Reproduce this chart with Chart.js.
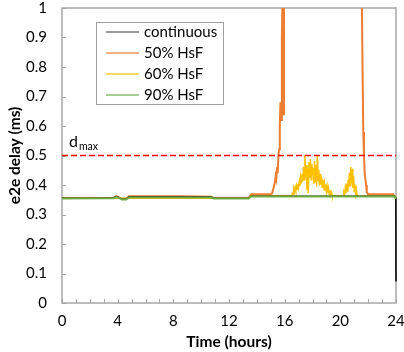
<!DOCTYPE html>
<html>
<head>
<meta charset="utf-8">
<script src="https://cdn.jsdelivr.net/npm/chart.js@4"></script>
<style>
html,body{margin:0;padding:0;background:#fff}
#wrap{width:404px;height:352px;position:relative}
</style>
</head>
<body>
<div id="wrap"><canvas id="c"></canvas></div>
<script>
// tick labels
const hourTicks = [0, 4, 8, 12, 16, 20, 24]
const delayTicks = [0, 0.1, 0.2, 0.3, 0.4, 0.5, 0.6, 0.7, 0.8, 0.9, 1]

// continuous
const contHours = [0, 3.7, 3.9, 4.1, 4.3, 4.6, 4.8, 10.7, 10.9, 13.4, 13.6, 23.9, 23.99, 24]
const contDelay = [0.355, 0.356, 0.36, 0.357, 0.352, 0.352, 0.359, 0.359, 0.355, 0.355, 0.362, 0.362, 0.355, 0.073]

// 50% HsF
const hsf50Hours = [0, 3.7, 3.9, 4.1, 4.3, 4.6, 4.8, 8.5, 10.7, 10.9, 13.4, 13.6, 15.0, 15.1, 15.2, 15.3, 15.35, 15.4, 15.45,
  15.5, 15.55, 15.6, 15.65, 15.7, 15.75, 15.8, 15.85, 15.9, 15.95, 16.0, 21.5, 21.55, 21.6, 21.65, 21.7, 21.75, 21.8, 21.85,
  21.9, 22.0, 23.8, 23.9, 24]
const hsf50Delay = [0.356, 0.357, 0.362, 0.358, 0.353, 0.353, 0.362, 0.362, 0.36, 0.356, 0.356, 0.369, 0.369, 0.372, 0.39, 0.41, 0.43, 0.42, 0.46,
  0.44, 0.5, 0.52, 0.6, 0.68, 0.62, 0.9, 1.05, 0.64, 1.3, 1.6, 1.6, 1.0, 0.78, 0.58, 0.5, 0.44, 0.42, 0.4,
  0.375, 0.369, 0.369, 0.36, 0.355]

// 60% HsF
const hsf60Hours = [0, 13.4, 13.6, 16.5,
  16.55, 16.6, 16.65, 16.7, 16.75, 16.8, 16.85, 16.9, 16.95, 17.0, 17.05, 17.1, 17.15, 17.2, 17.25, 17.3, 17.35, 17.4, 17.45,
  17.5, 17.55, 17.6, 17.65, 17.7, 17.75, 17.8, 17.85, 17.9, 17.95, 18.0, 18.05, 18.1, 18.15, 18.2, 18.25, 18.3, 18.35, 18.4,
  18.45, 18.5, 18.55, 18.6, 18.65, 18.7, 18.75, 18.8, 18.85, 18.9, 18.95, 19.0, 19.05, 19.1, 19.15, 19.2, 19.25, 19.3, 19.35,
  19.4, 19.5, 20.2, 20.25, 20.3, 20.35, 20.4, 20.45, 20.5, 20.55, 20.6, 20.65, 20.7, 20.75, 20.8, 20.85, 20.9, 20.95, 21.0,
  21.05, 21.1, 21.15, 21.2, 21.3, 24]
const hsf60Delay = [0.355, 0.355, 0.362, 0.364,
  0.372, 0.368, 0.385, 0.376, 0.392, 0.381, 0.398, 0.386, 0.404, 0.392, 0.412, 0.398, 0.425, 0.405, 0.438, 0.412, 0.462, 0.418, 0.502,
  0.428, 0.468, 0.382, 0.455, 0.372, 0.478, 0.425, 0.488, 0.418, 0.472, 0.436, 0.458, 0.404, 0.482, 0.412, 0.468, 0.395, 0.501, 0.415,
  0.452, 0.398, 0.438, 0.402, 0.428, 0.392, 0.418, 0.395, 0.408, 0.382, 0.402, 0.378, 0.395, 0.372, 0.388, 0.368, 0.382, 0.366, 0.375,
  0.364, 0.363, 0.364, 0.375, 0.368, 0.388, 0.372, 0.405, 0.38, 0.418, 0.392, 0.442, 0.398, 0.462, 0.405, 0.455, 0.39, 0.432, 0.378,
  0.402, 0.37, 0.385, 0.366, 0.363, 0.362]

// 90% HsF
const hsf90Hours = [0, 3.7, 3.9, 4.1, 4.3, 4.6, 4.8, 10.7, 10.9, 13.4, 13.6, 23.9, 24]
const hsf90Delay = [0.354, 0.355, 0.359, 0.356, 0.351, 0.351, 0.358, 0.358, 0.354, 0.354, 0.361, 0.361, 0.353]

// d_max threshold
const dmaxHours = [0, 24]
const dmaxDelay = [0.5, 0.5]

function pts(xs, ys) {
  return xs.map((x, i) => ({x: x, y: ys[i]}))
}

const FONT = 'Lato, "Open Sans", sans-serif'

const series = [
  {label: 'continuous', data: pts(contHours, contDelay), borderColor: '#000000', borderWidth: 1.5, order: 2},
  {label: '50% HsF', data: pts(hsf50Hours, hsf50Delay), borderColor: '#ED7D31', borderWidth: 2, order: 4},
  {label: '60% HsF', data: pts(hsf60Hours, hsf60Delay), borderColor: '#FFC000', borderWidth: 1.5, order: 3},
  {label: '90% HsF', data: pts(hsf90Hours, hsf90Delay), borderColor: '#70AD47', borderWidth: 2, order: 1},
  {label: 'dmax', data: pts(dmaxHours, dmaxDelay), borderColor: '#FF0000', borderWidth: 1.5, borderDash: [6, 3], order: 0}
]
series.forEach(s => {
  s.pointRadius = 0; s.tension = 0; s.fill = false
  s.clip = {left: 0, top: 0, right: 2, bottom: 0}
})

const decor = {
  id: 'decor',
  beforeDatasetsDraw(chart) {
    const ctx = chart.ctx, a = chart.chartArea
    const xs = chart.scales.x, ys = chart.scales.y
    ctx.save()
    // frame
    ctx.strokeStyle = '#A6A6A6'
    ctx.lineWidth = 1.5
    ctx.strokeRect(a.left, a.top, a.right - a.left, a.bottom - a.top)
    // inward ticks
    ctx.beginPath()
    for (let h = 0; h <= 24; h++) {
      const px = Math.round(xs.getPixelForValue(h)) + 0.5
      ctx.moveTo(px, a.bottom); ctx.lineTo(px, a.bottom - 4)
    }
    delayTicks.forEach(v => {
      const py = Math.round(ys.getPixelForValue(v)) + 0.5
      ctx.moveTo(a.left, py); ctx.lineTo(a.left + 4, py)
    })
    ctx.lineWidth = 1
    ctx.stroke()
    ctx.restore()
  },
  afterDraw(chart) {
    const ctx = chart.ctx
    const xs = chart.scales.x, ys = chart.scales.y
    ctx.save()
    // d_max label
    const lx = xs.getPixelForValue(0.5), ly = ys.getPixelForValue(0.5) - 9
    ctx.fillStyle = '#000'
    ctx.font = '16px ' + FONT
    ctx.textBaseline = 'alphabetic'
    ctx.fillText('d', lx, ly)
    const dw = ctx.measureText('d').width
    ctx.font = '10.5px ' + FONT
    ctx.fillText('max', lx + dw + 1, ly + 3)

    // legend
    const bx = 96, by = 22, bw = 127, bh = 82
    ctx.fillStyle = '#fff'
    ctx.fillRect(bx, by, bw, bh)
    ctx.strokeStyle = '#A0A0A0'
    ctx.lineWidth = 1
    ctx.strokeRect(bx + 0.5, by + 0.5, bw, bh)
    ctx.font = '15px ' + FONT
    ctx.textBaseline = 'middle'
    for (let i = 0; i < 4; i++) {
      const s = series[i]
      const yy = by + 10 + i * 21
      ctx.globalAlpha = i === 0 ? 0.8 : 0.6
      ctx.strokeStyle = s.borderColor
      ctx.lineWidth = i === 0 ? 1.2 : 2
      ctx.beginPath()
      ctx.moveTo(106, yy); ctx.lineTo(139, yy)
      ctx.stroke()
      ctx.globalAlpha = 1
      ctx.fillStyle = '#000'
      ctx.fillText(s.label, 144, yy)
    }
    ctx.restore()
  }
}

new Chart(document.getElementById('c'), {
  type: 'line',
  data: {datasets: series},
  options: {
    responsive: true,
    maintainAspectRatio: false,
    animation: false,
    layout: {padding: {top: 8, right: 8, left: 0, bottom: 0}},
    plugins: {legend: {display: false}, tooltip: {enabled: false}},
    scales: {
      x: {
        type: 'linear', min: 0, max: 24,
        afterBuildTicks: s => { s.ticks = hourTicks.map(v => ({value: v})) },
        afterFit: s => { s.height = 49; s.paddingLeft = 0; s.paddingRight = 0 },
        grid: {display: false, drawTicks: false},
        border: {display: false},
        ticks: {color: '#000', font: {family: FONT, size: 15}, padding: 9, maxRotation: 0},
        title: {display: true, text: 'Time (hours)', color: '#000', font: {family: FONT, size: 15.5, weight: 'bold'}, padding: {top: 0, bottom: 1}}
      },
      y: {
        min: 0, max: 1,
        afterBuildTicks: s => { s.ticks = delayTicks.map(v => ({value: v})) },
        afterFit: s => { s.width = 62; s.paddingTop = 0; s.paddingBottom = 0 },
        grid: {display: false, drawTicks: false},
        border: {display: false},
        ticks: {color: '#000', font: {family: FONT, size: 15}, padding: 15, callback: v => String(v)},
        title: {display: true, text: 'e2e delay (ms)', color: '#000', font: {family: FONT, size: 15.5, weight: 'bold'}, padding: {top: 6, bottom: 0}}
      }
    }
  },
  plugins: [decor]
})
</script>
</body>
</html>
